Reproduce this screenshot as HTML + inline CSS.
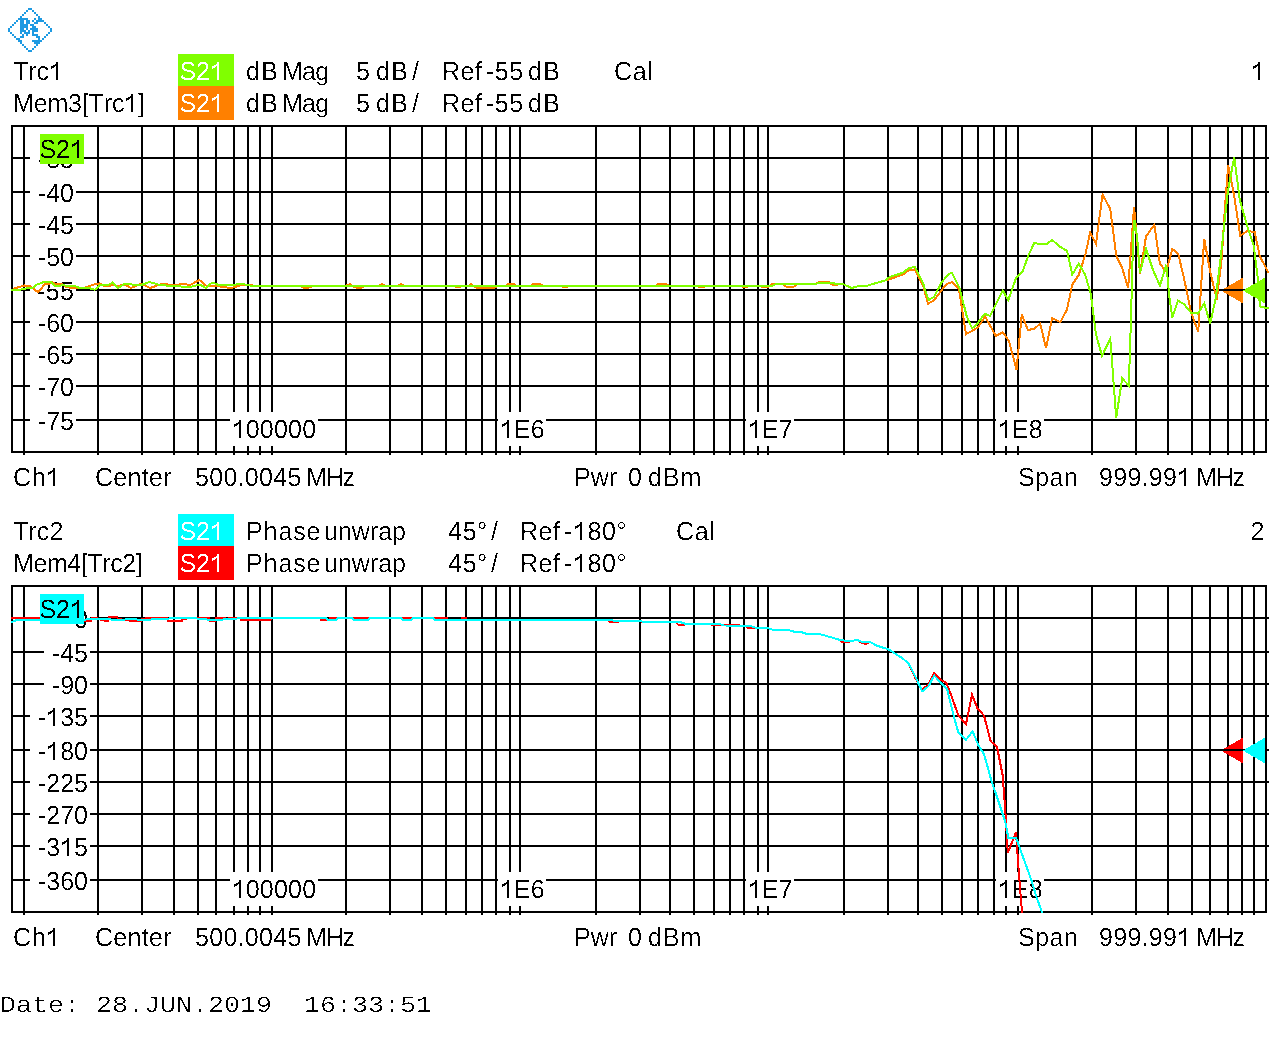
<!DOCTYPE html>
<html><head><meta charset="utf-8"><title>ZNB</title>
<style>
html,body{margin:0;padding:0;background:#fff;}
svg{display:block;}
text{font-family:"Liberation Sans",sans-serif;font-size:25px;font-kerning:none;white-space:pre;}
.m{font-family:"Liberation Mono",monospace;font-size:26.67px;}
</style></head><body>
<svg width="1278" height="1052" viewBox="0 0 1278 1052" shape-rendering="crispEdges" text-rendering="geometricPrecision">
<defs>
<clipPath id="clip0"><rect x="11" y="125" width="1258" height="328"/></clipPath>
<clipPath id="clip460"><rect x="11" y="585" width="1258" height="328"/></clipPath>
<filter id="al" color-interpolation-filters="sRGB"><feComponentTransfer><feFuncA type="discrete" tableValues="0 0 0 1 1"/></feComponentTransfer></filter>
<filter id="al2" color-interpolation-filters="sRGB"><feComponentTransfer><feFuncA type="discrete" tableValues="0 0 0 0 0 0 0 1 1 1"/></feComponentTransfer></filter>
<path id="one" transform="scale(0.012207,-0.012207)" d="M763 0H583V1147Q500 1075 380 1010T150 900V1090Q340 1165 470 1270T644 1466H763Z"/>
</defs>
<rect width="1278" height="1052" fill="#fff"/>
<g fill="#1E9AE2">
<rect x="28" y="8" width="2" height="2"/>
<rect x="30" y="8" width="2" height="2"/>
<rect x="26" y="10" width="2" height="2"/>
<rect x="32" y="10" width="2" height="2"/>
<rect x="24" y="12" width="2" height="2"/>
<rect x="34" y="12" width="2" height="2"/>
<rect x="22" y="14" width="2" height="2"/>
<rect x="36" y="14" width="2" height="2"/>
<rect x="20" y="16" width="2" height="2"/>
<rect x="38" y="16" width="2" height="2"/>
<rect x="18" y="18" width="2" height="2"/>
<rect x="20" y="18" width="2" height="2"/>
<rect x="22" y="18" width="2" height="2"/>
<rect x="24" y="18" width="2" height="2"/>
<rect x="26" y="18" width="2" height="2"/>
<rect x="34" y="18" width="2" height="2"/>
<rect x="38" y="18" width="2" height="2"/>
<rect x="40" y="18" width="2" height="2"/>
<rect x="16" y="20" width="2" height="2"/>
<rect x="20" y="20" width="2" height="2"/>
<rect x="22" y="20" width="2" height="2"/>
<rect x="26" y="20" width="2" height="2"/>
<rect x="28" y="20" width="2" height="2"/>
<rect x="32" y="20" width="2" height="2"/>
<rect x="36" y="20" width="2" height="2"/>
<rect x="38" y="20" width="2" height="2"/>
<rect x="40" y="20" width="2" height="2"/>
<rect x="42" y="20" width="2" height="2"/>
<rect x="14" y="22" width="2" height="2"/>
<rect x="20" y="22" width="2" height="2"/>
<rect x="22" y="22" width="2" height="2"/>
<rect x="26" y="22" width="2" height="2"/>
<rect x="28" y="22" width="2" height="2"/>
<rect x="34" y="22" width="2" height="2"/>
<rect x="36" y="22" width="2" height="2"/>
<rect x="44" y="22" width="2" height="2"/>
<rect x="12" y="24" width="2" height="2"/>
<rect x="20" y="24" width="2" height="2"/>
<rect x="22" y="24" width="2" height="2"/>
<rect x="24" y="24" width="2" height="2"/>
<rect x="26" y="24" width="2" height="2"/>
<rect x="30" y="24" width="2" height="2"/>
<rect x="32" y="24" width="2" height="2"/>
<rect x="46" y="24" width="2" height="2"/>
<rect x="10" y="26" width="2" height="2"/>
<rect x="20" y="26" width="2" height="2"/>
<rect x="22" y="26" width="2" height="2"/>
<rect x="24" y="26" width="2" height="2"/>
<rect x="26" y="26" width="2" height="2"/>
<rect x="32" y="26" width="2" height="2"/>
<rect x="34" y="26" width="2" height="2"/>
<rect x="48" y="26" width="2" height="2"/>
<rect x="8" y="28" width="2" height="2"/>
<rect x="20" y="28" width="2" height="2"/>
<rect x="22" y="28" width="2" height="2"/>
<rect x="26" y="28" width="2" height="2"/>
<rect x="30" y="28" width="2" height="2"/>
<rect x="32" y="28" width="2" height="2"/>
<rect x="34" y="28" width="2" height="2"/>
<rect x="36" y="28" width="2" height="2"/>
<rect x="50" y="28" width="2" height="2"/>
<rect x="8" y="30" width="2" height="2"/>
<rect x="20" y="30" width="2" height="2"/>
<rect x="22" y="30" width="2" height="2"/>
<rect x="24" y="30" width="2" height="2"/>
<rect x="28" y="30" width="2" height="2"/>
<rect x="32" y="30" width="2" height="2"/>
<rect x="34" y="30" width="2" height="2"/>
<rect x="36" y="30" width="2" height="2"/>
<rect x="50" y="30" width="2" height="2"/>
<rect x="10" y="32" width="2" height="2"/>
<rect x="20" y="32" width="2" height="2"/>
<rect x="24" y="32" width="2" height="2"/>
<rect x="26" y="32" width="2" height="2"/>
<rect x="28" y="32" width="2" height="2"/>
<rect x="32" y="32" width="2" height="2"/>
<rect x="48" y="32" width="2" height="2"/>
<rect x="12" y="34" width="2" height="2"/>
<rect x="22" y="34" width="2" height="2"/>
<rect x="26" y="34" width="2" height="2"/>
<rect x="32" y="34" width="2" height="2"/>
<rect x="34" y="34" width="2" height="2"/>
<rect x="36" y="34" width="2" height="2"/>
<rect x="46" y="34" width="2" height="2"/>
<rect x="14" y="36" width="2" height="2"/>
<rect x="20" y="36" width="2" height="2"/>
<rect x="22" y="36" width="2" height="2"/>
<rect x="36" y="36" width="2" height="2"/>
<rect x="38" y="36" width="2" height="2"/>
<rect x="44" y="36" width="2" height="2"/>
<rect x="16" y="38" width="2" height="2"/>
<rect x="18" y="38" width="2" height="2"/>
<rect x="38" y="38" width="2" height="2"/>
<rect x="42" y="38" width="2" height="2"/>
<rect x="18" y="40" width="2" height="2"/>
<rect x="20" y="40" width="2" height="2"/>
<rect x="32" y="40" width="2" height="2"/>
<rect x="34" y="40" width="2" height="2"/>
<rect x="36" y="40" width="2" height="2"/>
<rect x="38" y="40" width="2" height="2"/>
<rect x="40" y="40" width="2" height="2"/>
<rect x="20" y="42" width="2" height="2"/>
<rect x="34" y="42" width="2" height="2"/>
<rect x="36" y="42" width="2" height="2"/>
<rect x="38" y="42" width="2" height="2"/>
<rect x="22" y="44" width="2" height="2"/>
<rect x="36" y="44" width="2" height="2"/>
<rect x="24" y="46" width="2" height="2"/>
<rect x="34" y="46" width="2" height="2"/>
<rect x="26" y="48" width="2" height="2"/>
<rect x="32" y="48" width="2" height="2"/>
<rect x="28" y="50" width="2" height="2"/>
<rect x="30" y="50" width="2" height="2"/>
</g>
<rect x="178" y="54" width="56" height="32" fill="#80FF00"/>
<rect x="178" y="86" width="56" height="34" fill="#FF8000"/>
<g filter="url(#al)" transform="translate(179.50,80)" fill="#fff">
<text x="0.00" transform="scale(1,1.045)" letter-spacing="-0.2">S2</text>
<use href="#one" x="30.383"/>
</g>
<g filter="url(#al)" transform="translate(179.50,112)" fill="#fff">
<text x="0.00" transform="scale(1,1.045)" letter-spacing="-0.2">S2</text>
<use href="#one" x="30.383"/>
</g>
<g filter="url(#al)" transform="translate(13.00,80)" fill="#000">
<text x="0.00" transform="scale(1,1.045)">Trc</text>
<use href="#one" x="35.883"/>
</g>
<g filter="url(#al)" transform="translate(13.00,112)" fill="#000">
<text x="0.00" transform="scale(1,1.045)" letter-spacing="-0.15">Mem3[Trc</text>
<use href="#one" x="110.883"/>
<text x="125.05" transform="scale(1,1.045)" letter-spacing="-0.15">]</text>
</g>
<g filter="url(#al)" transform="translate(246.00,80)" fill="#000">
<text x="0.00" transform="scale(1,1.045)" letter-spacing="1.4">dB</text>
</g>
<g filter="url(#al)" transform="translate(282.00,80)" fill="#000">
<text x="0.00" transform="scale(1,1.045)" letter-spacing="-0.8">Mag</text>
</g>
<g filter="url(#al)" transform="translate(356.00,80)" fill="#000">
<text x="0.00" transform="scale(1,1.045)">5</text>
</g>
<g filter="url(#al)" transform="translate(376.00,80)" fill="#000">
<text x="0.00" transform="scale(1,1.045)" letter-spacing="1.4">dB</text>
</g>
<g filter="url(#al)" transform="translate(412.00,80)" fill="#000">
<text x="0.00" transform="scale(1,1.045)">/</text>
</g>
<g filter="url(#al)" transform="translate(442.00,80)" fill="#000">
<text x="0.00" transform="scale(1,1.045)" letter-spacing="0.5">Ref</text>
</g>
<g filter="url(#al)" transform="translate(486.00,80)" fill="#000">
<text x="0.00" transform="scale(1,1.045)" letter-spacing="0.5">-55</text>
</g>
<g filter="url(#al)" transform="translate(528.00,80)" fill="#000">
<text x="0.00" transform="scale(1,1.045)" letter-spacing="1.4">dB</text>
</g>
<g filter="url(#al)" transform="translate(246.00,112)" fill="#000">
<text x="0.00" transform="scale(1,1.045)" letter-spacing="1.4">dB</text>
</g>
<g filter="url(#al)" transform="translate(282.00,112)" fill="#000">
<text x="0.00" transform="scale(1,1.045)" letter-spacing="-0.8">Mag</text>
</g>
<g filter="url(#al)" transform="translate(356.00,112)" fill="#000">
<text x="0.00" transform="scale(1,1.045)">5</text>
</g>
<g filter="url(#al)" transform="translate(376.00,112)" fill="#000">
<text x="0.00" transform="scale(1,1.045)" letter-spacing="1.4">dB</text>
</g>
<g filter="url(#al)" transform="translate(412.00,112)" fill="#000">
<text x="0.00" transform="scale(1,1.045)">/</text>
</g>
<g filter="url(#al)" transform="translate(442.00,112)" fill="#000">
<text x="0.00" transform="scale(1,1.045)" letter-spacing="0.5">Ref</text>
</g>
<g filter="url(#al)" transform="translate(486.00,112)" fill="#000">
<text x="0.00" transform="scale(1,1.045)" letter-spacing="0.5">-55</text>
</g>
<g filter="url(#al)" transform="translate(528.00,112)" fill="#000">
<text x="0.00" transform="scale(1,1.045)" letter-spacing="1.4">dB</text>
</g>
<g filter="url(#al)" transform="translate(614.00,80)" fill="#000">
<text x="0.00" transform="scale(1,1.045)" letter-spacing="0.8">Cal</text>
</g>
<g filter="url(#al)" transform="translate(1250.60,80)" fill="#000">
<use href="#one" x="0.287"/>
</g>
<rect x="178" y="514" width="56" height="32" fill="#00FFFF"/>
<rect x="178" y="546" width="56" height="34" fill="#FF0000"/>
<g filter="url(#al)" transform="translate(179.50,540)" fill="#fff">
<text x="0.00" transform="scale(1,1.045)" letter-spacing="-0.2">S2</text>
<use href="#one" x="30.383"/>
</g>
<g filter="url(#al)" transform="translate(179.50,572)" fill="#fff">
<text x="0.00" transform="scale(1,1.045)" letter-spacing="-0.2">S2</text>
<use href="#one" x="30.383"/>
</g>
<g filter="url(#al)" transform="translate(13.00,540)" fill="#000">
<text x="0.00" transform="scale(1,1.045)" letter-spacing="0.1">Trc2</text>
</g>
<g filter="url(#al)" transform="translate(13.00,572)" fill="#000">
<text x="0.00" transform="scale(1,1.045)" letter-spacing="-0.4">Mem4[Trc2]</text>
</g>
<g filter="url(#al)" transform="translate(246.00,540)" fill="#000">
<text x="0.00" transform="scale(1,1.045)" letter-spacing="0.9">Phase</text>
</g>
<g filter="url(#al)" transform="translate(324.00,540)" fill="#000">
<text x="0.00" transform="scale(1,1.045)">unwrap</text>
</g>
<g filter="url(#al)" transform="translate(448.00,540)" fill="#000">
<text x="0.00" transform="scale(1,1.045)" letter-spacing="0.75">45°</text>
</g>
<g filter="url(#al)" transform="translate(491.00,540)" fill="#000">
<text x="0.00" transform="scale(1,1.045)">/</text>
</g>
<g filter="url(#al)" transform="translate(520.00,540)" fill="#000">
<text x="0.00" transform="scale(1,1.045)" letter-spacing="0.5">Ref</text>
</g>
<g filter="url(#al)" transform="translate(564.00,540)" fill="#000">
<text x="0.00" transform="scale(1,1.045)" letter-spacing="0.6">-</text>
<use href="#one" x="8.883"/>
<text x="23.43" transform="scale(1,1.045)" letter-spacing="0.6">80°</text>
</g>
<g filter="url(#al)" transform="translate(246.00,572)" fill="#000">
<text x="0.00" transform="scale(1,1.045)" letter-spacing="0.9">Phase</text>
</g>
<g filter="url(#al)" transform="translate(324.00,572)" fill="#000">
<text x="0.00" transform="scale(1,1.045)">unwrap</text>
</g>
<g filter="url(#al)" transform="translate(448.00,572)" fill="#000">
<text x="0.00" transform="scale(1,1.045)" letter-spacing="0.75">45°</text>
</g>
<g filter="url(#al)" transform="translate(491.00,572)" fill="#000">
<text x="0.00" transform="scale(1,1.045)">/</text>
</g>
<g filter="url(#al)" transform="translate(520.00,572)" fill="#000">
<text x="0.00" transform="scale(1,1.045)" letter-spacing="0.5">Ref</text>
</g>
<g filter="url(#al)" transform="translate(564.00,572)" fill="#000">
<text x="0.00" transform="scale(1,1.045)" letter-spacing="0.6">-</text>
<use href="#one" x="8.883"/>
<text x="23.43" transform="scale(1,1.045)" letter-spacing="0.6">80°</text>
</g>
<g filter="url(#al)" transform="translate(676.00,540)" fill="#000">
<text x="0.00" transform="scale(1,1.045)" letter-spacing="0.8">Cal</text>
</g>
<g filter="url(#al)" transform="translate(1250.60,540)" fill="#000">
<text x="0.00" transform="scale(1,1.045)">2</text>
</g>
<g filter="url(#al)" transform="translate(13.00,486)" fill="#000">
<text x="0.00" transform="scale(1,1.045)" letter-spacing="0.6">Ch</text>
<use href="#one" x="32.883"/>
</g>
<g filter="url(#al)" transform="translate(95.00,486)" fill="#000">
<text x="0.00" transform="scale(1,1.045)" letter-spacing="0.3">Center</text>
</g>
<g filter="url(#al)" transform="translate(195.00,486)" fill="#000">
<text x="0.00" transform="scale(1,1.045)" letter-spacing="0.3">500.0045</text>
</g>
<g filter="url(#al)" transform="translate(306.00,486)" fill="#000">
<text x="0.00" transform="scale(1,1.045)" letter-spacing="-1.2">MHz</text>
</g>
<g filter="url(#al)" transform="translate(574.00,486)" fill="#000">
<text x="0.00" transform="scale(1,1.045)">Pwr</text>
</g>
<g filter="url(#al)" transform="translate(628.00,486)" fill="#000">
<text x="0.00" transform="scale(1,1.045)">0</text>
</g>
<g filter="url(#al)" transform="translate(648.00,486)" fill="#000">
<text x="0.00" transform="scale(1,1.045)" letter-spacing="1.0">dBm</text>
</g>
<g filter="url(#al)" transform="translate(1018.00,486)" fill="#000">
<text x="0.00" transform="scale(1,1.045)" letter-spacing="0.5">Span</text>
</g>
<g filter="url(#al)" transform="translate(1099.00,486)" fill="#000">
<text x="0.00" transform="scale(1,1.045)" letter-spacing="0.3">999.99</text>
<use href="#one" x="77.883"/>
</g>
<g filter="url(#al)" transform="translate(1196.00,486)" fill="#000">
<text x="0.00" transform="scale(1,1.045)" letter-spacing="-1.2">MHz</text>
</g>
<g filter="url(#al)" transform="translate(13.00,946)" fill="#000">
<text x="0.00" transform="scale(1,1.045)" letter-spacing="0.6">Ch</text>
<use href="#one" x="32.883"/>
</g>
<g filter="url(#al)" transform="translate(95.00,946)" fill="#000">
<text x="0.00" transform="scale(1,1.045)" letter-spacing="0.3">Center</text>
</g>
<g filter="url(#al)" transform="translate(195.00,946)" fill="#000">
<text x="0.00" transform="scale(1,1.045)" letter-spacing="0.3">500.0045</text>
</g>
<g filter="url(#al)" transform="translate(306.00,946)" fill="#000">
<text x="0.00" transform="scale(1,1.045)" letter-spacing="-1.2">MHz</text>
</g>
<g filter="url(#al)" transform="translate(574.00,946)" fill="#000">
<text x="0.00" transform="scale(1,1.045)">Pwr</text>
</g>
<g filter="url(#al)" transform="translate(628.00,946)" fill="#000">
<text x="0.00" transform="scale(1,1.045)">0</text>
</g>
<g filter="url(#al)" transform="translate(648.00,946)" fill="#000">
<text x="0.00" transform="scale(1,1.045)" letter-spacing="1.0">dBm</text>
</g>
<g filter="url(#al)" transform="translate(1018.00,946)" fill="#000">
<text x="0.00" transform="scale(1,1.045)" letter-spacing="0.5">Span</text>
</g>
<g filter="url(#al)" transform="translate(1099.00,946)" fill="#000">
<text x="0.00" transform="scale(1,1.045)" letter-spacing="0.3">999.99</text>
<use href="#one" x="77.883"/>
</g>
<g filter="url(#al)" transform="translate(1196.00,946)" fill="#000">
<text x="0.00" transform="scale(1,1.045)" letter-spacing="-1.2">MHz</text>
</g>
<rect x="23" y="125" width="2" height="330" fill="#000"/>
<rect x="97" y="125" width="2" height="330" fill="#000"/>
<rect x="141" y="125" width="2" height="330" fill="#000"/>
<rect x="173" y="125" width="2" height="330" fill="#000"/>
<rect x="197" y="125" width="2" height="330" fill="#000"/>
<rect x="215" y="125" width="2" height="330" fill="#000"/>
<rect x="233" y="125" width="2" height="330" fill="#000"/>
<rect x="247" y="125" width="2" height="330" fill="#000"/>
<rect x="259" y="125" width="2" height="330" fill="#000"/>
<rect x="271" y="125" width="2" height="330" fill="#000"/>
<rect x="345" y="125" width="2" height="330" fill="#000"/>
<rect x="389" y="125" width="2" height="330" fill="#000"/>
<rect x="421" y="125" width="2" height="330" fill="#000"/>
<rect x="445" y="125" width="2" height="330" fill="#000"/>
<rect x="465" y="125" width="2" height="330" fill="#000"/>
<rect x="481" y="125" width="2" height="330" fill="#000"/>
<rect x="495" y="125" width="2" height="330" fill="#000"/>
<rect x="509" y="125" width="2" height="330" fill="#000"/>
<rect x="519" y="125" width="2" height="330" fill="#000"/>
<rect x="595" y="125" width="2" height="330" fill="#000"/>
<rect x="639" y="125" width="2" height="330" fill="#000"/>
<rect x="669" y="125" width="2" height="330" fill="#000"/>
<rect x="693" y="125" width="2" height="330" fill="#000"/>
<rect x="713" y="125" width="2" height="330" fill="#000"/>
<rect x="729" y="125" width="2" height="330" fill="#000"/>
<rect x="743" y="125" width="2" height="330" fill="#000"/>
<rect x="757" y="125" width="2" height="330" fill="#000"/>
<rect x="767" y="125" width="2" height="330" fill="#000"/>
<rect x="843" y="125" width="2" height="330" fill="#000"/>
<rect x="887" y="125" width="2" height="330" fill="#000"/>
<rect x="917" y="125" width="2" height="330" fill="#000"/>
<rect x="941" y="125" width="2" height="330" fill="#000"/>
<rect x="961" y="125" width="2" height="330" fill="#000"/>
<rect x="977" y="125" width="2" height="330" fill="#000"/>
<rect x="993" y="125" width="2" height="330" fill="#000"/>
<rect x="1005" y="125" width="2" height="330" fill="#000"/>
<rect x="1017" y="125" width="2" height="330" fill="#000"/>
<rect x="1091" y="125" width="2" height="330" fill="#000"/>
<rect x="1135" y="125" width="2" height="330" fill="#000"/>
<rect x="1167" y="125" width="2" height="330" fill="#000"/>
<rect x="1191" y="125" width="2" height="330" fill="#000"/>
<rect x="1209" y="125" width="2" height="330" fill="#000"/>
<rect x="1227" y="125" width="2" height="330" fill="#000"/>
<rect x="1241" y="125" width="2" height="330" fill="#000"/>
<rect x="1253" y="125" width="2" height="330" fill="#000"/>
<rect x="11" y="157" width="1258" height="2" fill="#000"/>
<rect x="11" y="191" width="1258" height="2" fill="#000"/>
<rect x="11" y="223" width="1258" height="2" fill="#000"/>
<rect x="11" y="255" width="1258" height="2" fill="#000"/>
<rect x="11" y="289" width="1258" height="2" fill="#000"/>
<rect x="11" y="321" width="1258" height="2" fill="#000"/>
<rect x="11" y="353" width="1258" height="2" fill="#000"/>
<rect x="11" y="385" width="1258" height="2" fill="#000"/>
<rect x="11" y="419" width="1258" height="2" fill="#000"/>
<rect x="11" y="125" width="1256" height="2" fill="#000"/>
<rect x="11" y="451" width="1256" height="2" fill="#000"/>
<rect x="11" y="125" width="2" height="328" fill="#000"/>
<rect x="1265" y="125" width="2" height="328" fill="#000"/>
<polygon points="1221,290.5 1243,277.5 1243,303.5" fill="#FF8000"/>
<rect x="1221" y="289" width="23" height="2" fill="#000"/>
<rect x="30" y="141" width="46" height="34" fill="#fff"/>
<rect x="30" y="175" width="46" height="34" fill="#fff"/>
<rect x="30" y="207" width="46" height="34" fill="#fff"/>
<rect x="30" y="239" width="46" height="34" fill="#fff"/>
<rect x="30" y="273" width="46" height="34" fill="#fff"/>
<rect x="30" y="305" width="46" height="34" fill="#fff"/>
<rect x="30" y="337" width="46" height="34" fill="#fff"/>
<rect x="30" y="369" width="46" height="34" fill="#fff"/>
<rect x="30" y="403" width="46" height="34" fill="#fff"/>
<rect x="230" y="412" width="88" height="34" fill="#fff"/>
<rect x="498" y="412" width="48" height="34" fill="#fff"/>
<rect x="746" y="412" width="48" height="34" fill="#fff"/>
<rect x="996" y="412" width="48" height="34" fill="#fff"/>
<g filter="url(#al)" transform="translate(37.87,168)" fill="#000">
<text x="0.00" transform="scale(1,1.045)">-35</text>
</g>
<g filter="url(#al)" transform="translate(37.87,202)" fill="#000">
<text x="0.00" transform="scale(1,1.045)">-40</text>
</g>
<g filter="url(#al)" transform="translate(37.87,234)" fill="#000">
<text x="0.00" transform="scale(1,1.045)">-45</text>
</g>
<g filter="url(#al)" transform="translate(37.87,266)" fill="#000">
<text x="0.00" transform="scale(1,1.045)">-50</text>
</g>
<g filter="url(#al)" transform="translate(36.87,300)" fill="#000">
<text x="0.00" transform="scale(1,1.045)" letter-spacing="0.5">-55</text>
</g>
<g filter="url(#al)" transform="translate(37.87,332)" fill="#000">
<text x="0.00" transform="scale(1,1.045)">-60</text>
</g>
<g filter="url(#al)" transform="translate(37.87,364)" fill="#000">
<text x="0.00" transform="scale(1,1.045)">-65</text>
</g>
<g filter="url(#al)" transform="translate(37.87,396)" fill="#000">
<text x="0.00" transform="scale(1,1.045)">-70</text>
</g>
<g filter="url(#al)" transform="translate(37.87,430)" fill="#000">
<text x="0.00" transform="scale(1,1.045)">-75</text>
</g>
<g filter="url(#al)" transform="translate(231.50,438)" fill="#000">
<use href="#one" x="0.383"/>
<text x="14.15" transform="scale(1,1.045)" letter-spacing="0.25">00000</text>
</g>
<g filter="url(#al)" transform="translate(499.50,438)" fill="#000">
<use href="#one" x="0.383"/>
<text x="14.30" transform="scale(1,1.045)" letter-spacing="0.4">E6</text>
</g>
<g filter="url(#al)" transform="translate(747.50,438)" fill="#000">
<use href="#one" x="0.383"/>
<text x="14.30" transform="scale(1,1.045)" letter-spacing="0.4">E7</text>
</g>
<g filter="url(#al)" transform="translate(997.50,438)" fill="#000">
<use href="#one" x="0.383"/>
<text x="14.30" transform="scale(1,1.045)" letter-spacing="0.4">E8</text>
</g>
<g clip-path="url(#clip0)">
<polyline points="12.0,290.0 15.0,288.2 24.4,285.5 30.0,285.8 33.3,288.7 38.2,292.2 45.1,283.8 50.0,283.6 52.4,282.4 56.5,284.0 61.8,283.5 65.7,286.8 68.7,287.5 76.0,288.3 82.6,288.2 93.9,284.6 99.5,283.5 103.3,285.5 110.8,285.5 112.7,284.6 117.5,286.2 125.0,284.5 131.0,288.0 141.0,283.7 150.0,288.0 162.5,283.7 175.0,285.5 182.5,283.7 190.0,285.0 199.5,280.0 206.0,285.5 217.5,286.2 231.0,288.0 240.0,285.5 250.0,284.5 255.0,286.2 300.0,286.2 306.0,288.5 312.5,286.2 345.0,286.2 350.0,284.0 353.0,286.2 356.0,287.5 362.0,287.5 364.0,286.2 378.0,286.2 382.0,284.0 386.0,286.2 397.0,286.2 401.0,284.0 405.0,286.2 454.0,286.2 458.0,287.5 462.0,286.2 468.0,286.2 471.0,284.0 474.0,286.2 476.0,287.5 495.0,287.5 497.0,286.2 505.0,286.2 508.0,284.0 514.0,284.0 516.0,286.2 530.0,286.2 534.0,283.5 540.0,283.5 543.0,286.2 562.0,286.2 565.0,287.5 569.0,286.2 655.0,286.2 659.0,283.5 666.0,283.5 669.0,286.2 698.0,286.2 701.0,287.5 706.0,286.2 742.0,286.2 745.0,287.5 749.0,286.2 760.0,286.2 764.0,287.5 770.0,286.2 772.0,284.0 782.0,284.0 786.0,286.5 794.0,286.5 797.0,284.0 815.0,284.0 820.0,281.5 828.0,281.5 832.0,284.5 838.0,284.5 843.0,284.0 851.7,288.0 858.8,286.0 866.6,286.0 876.0,283.0 887.0,280.0 902.6,274.7 908.9,270.0 915.0,269.4 923.0,285.4 928.0,303.8 933.9,300.3 946.4,284.1 952.4,281.9 959.0,289.3 966.0,334.2 977.7,327.6 985.2,316.7 995.7,335.8 1002.8,332.3 1009.0,340.9 1016.5,369.9 1021.8,314.3 1027.8,330.0 1034.0,328.9 1040.2,323.8 1046.1,348.2 1052.1,318.3 1060.4,322.1 1067.0,309.5 1072.3,284.6 1078.7,275.0 1085.3,254.9 1090.1,232.8 1096.0,243.7 1102.5,194.7 1110.3,209.0 1116.2,255.6 1122.2,267.9 1128.1,288.1 1131.1,248.0 1134.0,206.6 1137.0,239.8 1140.0,273.8 1146.0,236.5 1154.3,224.8 1159.9,263.7 1166.3,271.7 1172.3,248.8 1178.3,254.2 1183.9,277.7 1190.9,311.7 1198.2,332.0 1204.2,238.8 1210.2,271.7 1216.8,299.7 1221.8,257.8 1224.8,209.9 1228.2,165.0 1234.2,195.9 1240.2,235.8 1247.7,230.8 1254.7,232.2 1259.7,255.8 1268.0,272.0" fill="none" stroke="#FF8000" stroke-width="2" stroke-linejoin="miter" stroke-linecap="square"/>
<polyline points="12.0,290.0 21.6,289.5 28.0,288.0 33.0,287.5 36.0,285.0 41.5,282.8 44.5,281.8 50.8,281.8 54.4,285.6 59.7,286.0 63.0,284.5 65.8,285.8 74.8,286.2 80.0,288.0 90.0,288.3 94.8,289.8 97.7,287.2 101.0,284.6 109.0,284.6 112.7,282.5 118.0,288.0 125.0,283.7 140.0,285.5 149.5,282.0 160.0,285.0 175.0,286.2 190.0,287.0 200.0,284.5 206.0,288.0 212.0,282.5 217.5,284.5 230.0,285.5 241.0,283.7 250.0,285.5 262.0,286.0 772.0,286.0 776.0,284.0 815.0,284.0 822.0,282.5 832.0,282.5 836.0,284.0 843.0,284.0 851.7,288.0 858.8,286.0 866.6,286.0 876.0,283.0 884.6,280.7 890.0,276.8 902.6,272.9 908.9,268.2 915.0,266.9 923.0,283.0 928.4,300.0 933.9,297.0 941.7,282.3 948.0,274.7 951.9,272.6 959.7,288.5 966.8,316.7 972.2,328.4 977.7,323.0 984.8,313.9 990.2,315.9 1002.8,290.4 1008.2,300.3 1016.0,278.3 1022.6,271.8 1028.3,255.6 1034.3,243.0 1040.2,244.2 1047.3,243.7 1052.1,239.9 1060.4,247.0 1067.0,250.8 1072.3,274.6 1078.7,263.6 1085.3,275.0 1090.8,294.0 1096.0,334.5 1102.0,355.9 1110.3,338.7 1116.2,417.6 1122.2,378.4 1128.8,385.6 1131.1,315.0 1133.2,235.0 1134.4,219.8 1137.0,236.0 1140.0,273.3 1146.0,248.8 1152.9,269.7 1159.9,285.7 1166.3,264.7 1169.5,297.7 1172.3,317.6 1177.9,300.7 1183.9,304.0 1190.9,312.6 1197.8,313.6 1204.2,303.3 1210.2,323.6 1215.8,297.7 1221.8,247.8 1227.8,191.9 1234.2,157.0 1239.8,199.9 1247.7,227.8 1253.7,245.8 1257.7,277.7 1259.7,303.7 1260.2,306.5 1263.0,307.3 1268.0,308.0" fill="none" stroke="#80FF00" stroke-width="2" stroke-linejoin="miter" stroke-linecap="square"/>
</g>
<polygon points="1243,290.5 1265,277.5 1265,303.5" fill="#80FF00"/>
<rect x="40" y="134" width="44" height="30" fill="#80FF00"/>
<g filter="url(#al)" transform="translate(39.50,158)" fill="#000">
<text x="0.00" transform="scale(1,1.045)" letter-spacing="-0.2">S2</text>
<use href="#one" x="30.383"/>
</g>
<rect x="23" y="585" width="2" height="330" fill="#000"/>
<rect x="97" y="585" width="2" height="330" fill="#000"/>
<rect x="141" y="585" width="2" height="330" fill="#000"/>
<rect x="173" y="585" width="2" height="330" fill="#000"/>
<rect x="197" y="585" width="2" height="330" fill="#000"/>
<rect x="215" y="585" width="2" height="330" fill="#000"/>
<rect x="233" y="585" width="2" height="330" fill="#000"/>
<rect x="247" y="585" width="2" height="330" fill="#000"/>
<rect x="259" y="585" width="2" height="330" fill="#000"/>
<rect x="271" y="585" width="2" height="330" fill="#000"/>
<rect x="345" y="585" width="2" height="330" fill="#000"/>
<rect x="389" y="585" width="2" height="330" fill="#000"/>
<rect x="421" y="585" width="2" height="330" fill="#000"/>
<rect x="445" y="585" width="2" height="330" fill="#000"/>
<rect x="465" y="585" width="2" height="330" fill="#000"/>
<rect x="481" y="585" width="2" height="330" fill="#000"/>
<rect x="495" y="585" width="2" height="330" fill="#000"/>
<rect x="509" y="585" width="2" height="330" fill="#000"/>
<rect x="519" y="585" width="2" height="330" fill="#000"/>
<rect x="595" y="585" width="2" height="330" fill="#000"/>
<rect x="639" y="585" width="2" height="330" fill="#000"/>
<rect x="669" y="585" width="2" height="330" fill="#000"/>
<rect x="693" y="585" width="2" height="330" fill="#000"/>
<rect x="713" y="585" width="2" height="330" fill="#000"/>
<rect x="729" y="585" width="2" height="330" fill="#000"/>
<rect x="743" y="585" width="2" height="330" fill="#000"/>
<rect x="757" y="585" width="2" height="330" fill="#000"/>
<rect x="767" y="585" width="2" height="330" fill="#000"/>
<rect x="843" y="585" width="2" height="330" fill="#000"/>
<rect x="887" y="585" width="2" height="330" fill="#000"/>
<rect x="917" y="585" width="2" height="330" fill="#000"/>
<rect x="941" y="585" width="2" height="330" fill="#000"/>
<rect x="961" y="585" width="2" height="330" fill="#000"/>
<rect x="977" y="585" width="2" height="330" fill="#000"/>
<rect x="993" y="585" width="2" height="330" fill="#000"/>
<rect x="1005" y="585" width="2" height="330" fill="#000"/>
<rect x="1017" y="585" width="2" height="330" fill="#000"/>
<rect x="1091" y="585" width="2" height="330" fill="#000"/>
<rect x="1135" y="585" width="2" height="330" fill="#000"/>
<rect x="1167" y="585" width="2" height="330" fill="#000"/>
<rect x="1191" y="585" width="2" height="330" fill="#000"/>
<rect x="1209" y="585" width="2" height="330" fill="#000"/>
<rect x="1227" y="585" width="2" height="330" fill="#000"/>
<rect x="1241" y="585" width="2" height="330" fill="#000"/>
<rect x="1253" y="585" width="2" height="330" fill="#000"/>
<rect x="11" y="617" width="1258" height="2" fill="#000"/>
<rect x="11" y="651" width="1258" height="2" fill="#000"/>
<rect x="11" y="683" width="1258" height="2" fill="#000"/>
<rect x="11" y="715" width="1258" height="2" fill="#000"/>
<rect x="11" y="749" width="1258" height="2" fill="#000"/>
<rect x="11" y="781" width="1258" height="2" fill="#000"/>
<rect x="11" y="813" width="1258" height="2" fill="#000"/>
<rect x="11" y="845" width="1258" height="2" fill="#000"/>
<rect x="11" y="879" width="1258" height="2" fill="#000"/>
<rect x="11" y="585" width="1256" height="2" fill="#000"/>
<rect x="11" y="911" width="1256" height="2" fill="#000"/>
<rect x="11" y="585" width="2" height="328" fill="#000"/>
<rect x="1265" y="585" width="2" height="328" fill="#000"/>
<polygon points="1221,750.5 1243,737.5 1243,763.5" fill="#FF0000"/>
<rect x="1221" y="749" width="23" height="2" fill="#000"/>
<rect x="66" y="601" width="24" height="34" fill="#fff"/>
<rect x="44" y="635" width="46" height="34" fill="#fff"/>
<rect x="44" y="667" width="46" height="34" fill="#fff"/>
<rect x="30" y="699" width="60" height="34" fill="#fff"/>
<rect x="30" y="733" width="60" height="34" fill="#fff"/>
<rect x="30" y="765" width="60" height="34" fill="#fff"/>
<rect x="30" y="797" width="60" height="34" fill="#fff"/>
<rect x="30" y="829" width="60" height="34" fill="#fff"/>
<rect x="30" y="863" width="60" height="34" fill="#fff"/>
<rect x="230" y="872" width="88" height="34" fill="#fff"/>
<rect x="498" y="872" width="48" height="34" fill="#fff"/>
<rect x="746" y="872" width="48" height="34" fill="#fff"/>
<rect x="996" y="872" width="48" height="34" fill="#fff"/>
<g filter="url(#al)" transform="translate(74.10,628)" fill="#000">
<text x="0.00" transform="scale(1,1.045)">0</text>
</g>
<g filter="url(#al)" transform="translate(51.87,662)" fill="#000">
<text x="0.00" transform="scale(1,1.045)">-45</text>
</g>
<g filter="url(#al)" transform="translate(51.87,694)" fill="#000">
<text x="0.00" transform="scale(1,1.045)">-90</text>
</g>
<g filter="url(#al)" transform="translate(37.96,726)" fill="#000">
<text x="0.00" transform="scale(1,1.045)">-</text>
<use href="#one" x="7.920"/>
<text x="22.23" transform="scale(1,1.045)">35</text>
</g>
<g filter="url(#al)" transform="translate(37.96,760)" fill="#000">
<text x="0.00" transform="scale(1,1.045)">-</text>
<use href="#one" x="7.920"/>
<text x="22.23" transform="scale(1,1.045)">80</text>
</g>
<g filter="url(#al)" transform="translate(37.96,792)" fill="#000">
<text x="0.00" transform="scale(1,1.045)">-225</text>
</g>
<g filter="url(#al)" transform="translate(37.96,824)" fill="#000">
<text x="0.00" transform="scale(1,1.045)">-270</text>
</g>
<g filter="url(#al)" transform="translate(37.96,856)" fill="#000">
<text x="0.00" transform="scale(1,1.045)">-3</text>
<use href="#one" x="21.920"/>
<text x="36.13" transform="scale(1,1.045)">5</text>
</g>
<g filter="url(#al)" transform="translate(37.96,890)" fill="#000">
<text x="0.00" transform="scale(1,1.045)">-360</text>
</g>
<g filter="url(#al)" transform="translate(231.50,898)" fill="#000">
<use href="#one" x="0.383"/>
<text x="14.15" transform="scale(1,1.045)" letter-spacing="0.25">00000</text>
</g>
<g filter="url(#al)" transform="translate(499.50,898)" fill="#000">
<use href="#one" x="0.383"/>
<text x="14.30" transform="scale(1,1.045)" letter-spacing="0.4">E6</text>
</g>
<g filter="url(#al)" transform="translate(747.50,898)" fill="#000">
<use href="#one" x="0.383"/>
<text x="14.30" transform="scale(1,1.045)" letter-spacing="0.4">E7</text>
</g>
<g filter="url(#al)" transform="translate(997.50,898)" fill="#000">
<use href="#one" x="0.383"/>
<text x="14.30" transform="scale(1,1.045)" letter-spacing="0.4">E8</text>
</g>
<g clip-path="url(#clip460)">
<polyline points="12.0,618.0 40.0,618.0 84.0,620.5 91.0,620.5 92.0,617.5 97.0,617.5 98.0,619.0 104.0,620.5 108.0,620.5 109.0,616.5 117.0,616.5 118.0,619.0 129.0,620.5 141.0,620.5 142.0,619.0 150.0,617.5 167.0,617.5 168.0,620.5 182.0,620.5 183.0,619.0 195.0,617.5 209.0,617.5 210.0,620.5 215.0,620.5 216.0,617.5 225.0,617.5 226.0,619.0 233.0,617.5 240.0,617.5 241.0,620.0 270.0,620.0 272.0,618.0 320.0,618.0 321.0,620.0 329.0,620.0 330.0,618.0 434.0,618.0 447.0,618.0 448.0,620.0 461.0,620.0 462.0,618.0 466.0,618.0 467.0,620.0 608.0,620.0 610.0,622.0 617.0,622.5 619.0,621.2 676.0,622.0 678.0,624.5 685.0,624.5 687.0,623.7 746.0,625.7 748.0,628.0 754.0,628.5 756.0,627.5 767.5,628.0 773.7,630.0 790.0,630.5 795.0,632.0 802.5,632.5 806.0,633.7 820.0,634.2 830.0,637.0 840.0,640.0 842.0,642.0 848.0,642.5 850.0,641.2 857.5,640.0 860.0,642.0 865.7,644.0 870.0,642.0 877.0,645.7 888.5,649.4 902.8,658.5 909.0,664.0 915.6,678.5 922.2,690.0 928.5,684.2 934.2,672.8 941.3,680.0 946.2,682.8 951.3,695.6 958.4,715.6 966.0,724.0 972.0,694.7 977.5,708.4 984.0,715.6 990.7,741.3 997.0,747.0 1002.7,775.5 1005.5,814.0 1007.8,852.5 1016.0,832.5 1018.3,865.4 1022.2,915.0" fill="none" stroke="#FF0000" stroke-width="2" stroke-linejoin="miter" stroke-linecap="square"/>
<polyline points="12.0,622.0 14.0,621.0 17.0,620.0 22.0,619.5 86.0,619.5 90.0,619.0 110.0,619.0 112.0,620.0 124.0,620.0 126.0,619.0 136.0,619.0 138.0,620.0 150.0,620.0 152.0,619.0 168.0,619.0 170.0,618.0 196.0,618.0 198.0,619.0 206.0,619.0 208.0,620.0 222.0,620.0 224.0,619.0 236.0,619.0 238.0,618.0 326.0,618.0 328.0,620.0 336.0,620.0 338.0,618.0 352.0,618.0 354.0,620.0 368.0,620.0 370.0,618.0 401.0,618.0 403.0,620.0 411.0,620.0 413.0,618.0 433.0,618.0 435.0,620.0 610.0,620.0 617.5,621.2 680.0,622.0 685.0,623.7 720.0,624.0 723.7,625.5 750.0,625.7 755.0,627.5 767.5,628.0 773.7,630.0 790.0,630.5 795.0,632.0 802.5,632.5 806.0,633.7 820.0,634.2 830.0,637.0 840.0,640.0 850.0,641.2 857.5,640.0 861.0,641.5 870.0,642.0 877.0,645.7 888.5,649.4 902.8,658.5 908.5,663.4 915.6,677.0 922.2,691.3 928.5,686.2 934.2,675.6 941.3,683.3 947.0,688.5 954.0,717.0 958.4,732.7 966.0,739.8 972.7,731.3 978.4,745.5 984.0,754.0 991.2,779.8 999.8,805.4 1005.5,822.6 1008.4,838.3 1016.3,838.3 1024.0,859.7 1031.2,879.6 1036.9,898.2 1043.0,915.0" fill="none" stroke="#00FFFF" stroke-width="2" stroke-linejoin="miter" stroke-linecap="square"/>
</g>
<polygon points="1243,750.5 1265,737.5 1265,763.5" fill="#00FFFF"/>
<rect x="40" y="594" width="44" height="30" fill="#00FFFF"/>
<g filter="url(#al)" transform="translate(39.50,618)" fill="#000">
<text x="0.00" transform="scale(1,1.045)" letter-spacing="-0.2">S2</text>
<use href="#one" x="30.383"/>
</g>
<text class="m" filter="url(#al2)" x="0" y="1012" transform="translate(0,1012) scale(1,0.87) translate(0,-1012)">Date: 28.JUN.2019&#160;&#160;16:33:51</text>
</svg></body></html>
